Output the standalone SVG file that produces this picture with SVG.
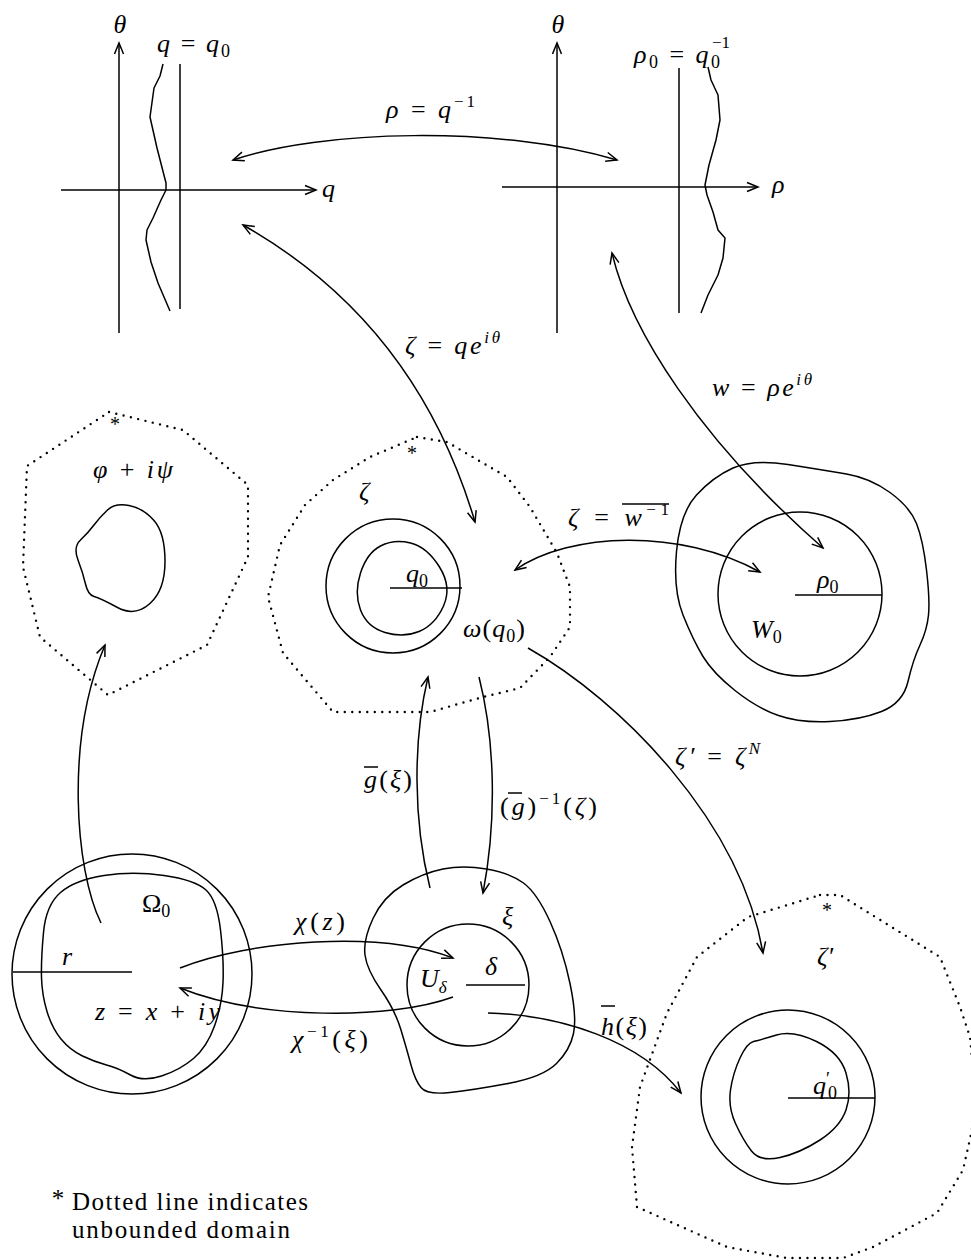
<svg xmlns="http://www.w3.org/2000/svg" width="971" height="1260" viewBox="0 0 971 1260">
<style>
.ln{fill:none;stroke:#000;stroke-width:1.5;stroke-linejoin:round}
.dot{fill:none;stroke:#000;stroke-width:2.4;stroke-dasharray:0 7.5;stroke-linecap:round;stroke-linejoin:round}
.m{font-family:"Liberation Serif","Times New Roman",serif;font-size:26px;font-style:italic;fill:#000}
.r{font-style:normal}
.sb{font-size:18px}
.sp{font-size:17px}
.ast{font-family:"Liberation Serif","Times New Roman",serif;font-size:20px;text-anchor:middle;fill:#000}
.note{font-family:"Liberation Serif","Times New Roman",serif;font-size:25px;fill:#000}
</style>
<defs>
<marker id="ah" viewBox="-13 -7 15 14" refX="0" refY="0" markerWidth="15" markerHeight="14" markerUnits="userSpaceOnUse" orient="auto-start-reverse">
<path d="M-11,-4.5 L0,0 L-11,4.5" fill="none" stroke="#000" stroke-width="1.5"/>
</marker>
</defs>

<g id="plane-q">
<line class="ln" x1="119" y1="333" x2="119" y2="43" marker-end="url(#ah)"/>
<line class="ln" x1="61" y1="190" x2="316" y2="190" marker-end="url(#ah)"/>
<line class="ln" x1="180" y1="64" x2="180" y2="309"/>
<polyline class="ln" points="163,64 160,76 154,88 150,117 157,148 166,183 166,190 161,200 153,218 147,230 146,240 151,262 158,283 170,311"/>
<text class="m" x="120" y="33" text-anchor="middle">θ</text>
<text class="m" x="157" y="52" textLength="73" lengthAdjust="spacing">q<tspan class="r"> = </tspan>q<tspan class="r sb" dy="5">0</tspan></text>
<text class="m" x="322" y="197">q</text>
</g>

<g id="plane-rho">
<line class="ln" x1="557" y1="333" x2="557" y2="43" marker-end="url(#ah)"/>
<line class="ln" x1="502" y1="187" x2="758" y2="187" marker-end="url(#ah)"/>
<line class="ln" x1="679" y1="68" x2="679" y2="313"/>
<polyline class="ln" points="708,67 711,80 718,95 720,120 716,140 709,165 705,185 707,195 713,212 718,230 725,238 723,258 718,275 708,295 701,313"/>
<text class="m" x="558" y="33" text-anchor="middle">θ</text>
<text class="m" x="634" y="63" textLength="86" lengthAdjust="spacing">ρ<tspan class="r sb" dy="5">0</tspan><tspan class="r" dy="-5"> = </tspan>q<tspan class="r sb" dy="5">0</tspan></text>
<text class="m r sp" x="712" y="48">−1</text>
<text class="m" x="772" y="193">ρ</text>
</g>

<g id="domain-phi">
<polygon class="dot" points="109,412 183,430 248,485 248,557 207,645 108,695 40,637 23,567 27,466"/>
<path class="ln" d="M107.5,510 Q115,503 129,505.5 Q143,508 154,520.5 Q165,533 165,561.5 Q165,590 150,603.5 Q135,617 117.5,607.5 Q100,598 94,596.5 Q88,595 85.5,584 Q83,573 78,560 Q73,547 80.5,540 Q88,533 94,525 Q100,517 107.5,510 Z"/>
<text class="ast" x="115" y="431">*</text>
<text class="m" x="93" y="478" textLength="80" lengthAdjust="spacing">φ<tspan class="r"> + </tspan>iψ</text>
</g>

<g id="domain-zeta">
<polygon class="dot" points="417,437 447,442 507,477 530,507 557,553 570,587 570,627 550,657 520,688 483,697 430,712 333,712 283,653 268,597 280,545 305,505 333,480 370,457"/>
<circle class="ln" cx="393" cy="586" r="67"/>
<path class="ln" d="M380.5,546 Q394,539 410.5,543 Q427,547 439.5,567 Q452,587 443.5,606 Q435,625 419,631.5 Q403,638 385,632.5 Q367,627 360.5,610 Q354,593 360.5,573 Q367,553 380.5,546 Z"/>
<line class="ln" x1="390" y1="588" x2="462" y2="588"/>
<text class="ast" x="412" y="460">*</text>
<text class="m" x="359" y="500">ζ</text>
<text class="m" x="406" y="582">q<tspan class="r sb" dy="5">0</tspan></text>
<text class="m" x="463" y="637" textLength="62" lengthAdjust="spacing">ω<tspan class="r">(</tspan>q<tspan class="r sb" dy="5">0</tspan><tspan class="r" dy="-5">)</tspan></text>
</g>

<g id="domain-W0">
<path class="ln" d="M733,468 Q753,459 788,464.5 Q823,470 846.5,474 Q870,478 890,492.5 Q910,507 916.5,523.5 Q923,540 926.5,570 Q930,600 928.5,615 Q927,630 920,645 Q913,660 908,681.5 Q903,703 881.5,711.5 Q860,720 830,721.5 Q800,723 778.5,715.5 Q757,708 735,690.5 Q713,673 703,656.5 Q693,640 683,615 Q673,590 676.5,551.5 Q680,513 696.5,495 Q713,477 733,468 Z"/>
<circle class="ln" cx="800" cy="594" r="82"/>
<line class="ln" x1="795" y1="595" x2="882" y2="595"/>
<text class="m" x="817" y="588">ρ<tspan class="r sb" dy="5">0</tspan></text>
<text class="m" x="751" y="638">W<tspan class="r sb" dy="5">0</tspan></text>
</g>

<g id="domain-Omega0">
<circle class="ln" cx="132" cy="974" r="120"/>
<path class="ln" d="M41.5,977.5 Q41,960 43.5,932.5 Q46,905 60.5,892.5 Q75,880 104,875.5 Q133,871 164,875.5 Q195,880 206,890 Q217,900 220.5,930 Q224,960 223,982.5 Q222,1005 214.5,1026 Q207,1047 193.5,1058.5 Q180,1070 161.5,1076 Q143,1082 130.5,1075 Q118,1068 106.5,1065 Q95,1062 82.5,1056 Q70,1050 61,1039 Q52,1028 47,1011.5 Q42,995 41.5,977.5 Z"/>
<line class="ln" x1="13" y1="972" x2="132" y2="972"/>
<text class="m r" x="142" y="912">Ω<tspan class="sb" dy="5">0</tspan></text>
<text class="m" x="62" y="965">r</text>
<text class="m" x="95" y="1020" textLength="125" lengthAdjust="spacing">z<tspan class="r"> = </tspan>x<tspan class="r"> + </tspan>iy</text>
</g>

<g id="domain-xi">
<path class="ln" d="M443,869 Q463,865 486.5,869 Q510,873 523.5,883 Q537,893 550,921.5 Q563,950 570,983.5 Q577,1017 573.5,1033.5 Q570,1050 556.5,1063.5 Q543,1077 508,1083.5 Q473,1090 450,1092.5 Q427,1095 421,1087.5 Q415,1080 411,1065 Q407,1050 401,1030 Q395,1010 381,990 Q367,970 365,955 Q363,940 373,918.5 Q383,897 403,885 Q423,873 443,869 Z"/>
<circle class="ln" cx="468" cy="985" r="61"/>
<line class="ln" x1="466" y1="985" x2="525" y2="985"/>
<text class="m" x="502" y="925">ξ</text>
<text class="m" x="485" y="975">δ</text>
<text class="m" x="420" y="987">U<tspan class="sp" dy="6">δ</tspan></text>
</g>

<g id="domain-zeta-prime">
<polygon class="dot" points="820,895 840,895 940,957 960,1007 970,1037 973,1070 972,1130 963,1170 937,1213 873,1247 843,1258 787,1258 727,1247 637,1207 632,1147 640,1087 667,1013 697,957 748,917"/>
<circle class="ln" cx="788" cy="1097" r="87"/>
<path class="ln" d="M753.5,1041.5 Q760,1040 776.5,1035 Q793,1030 816.5,1041.5 Q840,1053 846,1073 Q852,1093 846,1110 Q840,1127 820,1140 Q800,1153 780,1157.5 Q760,1162 751.5,1151 Q743,1140 735.5,1123.5 Q728,1107 730.5,1090 Q733,1073 740,1058 Q747,1043 753.5,1041.5 Z"/>
<line class="ln" x1="788" y1="1098" x2="875" y2="1098"/>
<text class="ast" x="827" y="917">*</text>
<text class="m" x="817" y="965">ζ′</text>
<text class="m" x="813" y="1094">q<tspan class="r sb" dy="-9">′</tspan><tspan class="r sb" dx="-2" dy="14">0</tspan></text>
</g>

<g id="connectors">
<path class="ln" d="M233,160 C320,130 500,125 617,160" marker-start="url(#ah)" marker-end="url(#ah)"/>
<path class="ln" d="M243,225 C340,280 430,370 475,522" marker-start="url(#ah)" marker-end="url(#ah)"/>
<path class="ln" d="M612,253 C630,330 700,440 823,548" marker-start="url(#ah)" marker-end="url(#ah)"/>
<path class="ln" d="M515,570 C570,532 680,528 760,572" marker-start="url(#ah)" marker-end="url(#ah)"/>
<path class="ln" d="M528,648 C620,700 740,820 763,953" marker-end="url(#ah)"/>
<path class="ln" d="M430,888 C413,820 413,740 428,677" marker-end="url(#ah)"/>
<path class="ln" d="M479,677 C495,740 497,820 483,893" marker-end="url(#ah)"/>
<path class="ln" d="M180,968 C250,940 380,930 453,958" marker-end="url(#ah)"/>
<path class="ln" d="M453,997 C390,1020 260,1020 180,988" marker-end="url(#ah)"/>
<path class="ln" d="M488,1013 C560,1015 640,1040 681,1093" marker-end="url(#ah)"/>
<path class="ln" d="M101,923 C75,870 65,740 105,645" marker-end="url(#ah)"/>

<text class="m" x="386" y="118" textLength="89" lengthAdjust="spacing">ρ<tspan class="r"> = </tspan>q<tspan class="r sp" dy="-11">−1</tspan></text>
<text class="m" x="405" y="354" textLength="95" lengthAdjust="spacing">ζ<tspan class="r"> = </tspan>qe<tspan class="sp" dy="-11">iθ</tspan></text>
<text class="m" x="712" y="396" textLength="100" lengthAdjust="spacing">w<tspan class="r"> = </tspan>ρe<tspan class="sp" dy="-11">iθ</tspan></text>
<text class="m" x="568" y="526" textLength="101" lengthAdjust="spacing">ζ<tspan class="r"> = </tspan>w<tspan class="r sp" dy="-11">−1</tspan></text>
<line class="ln" x1="622" y1="504" x2="669" y2="504"/>
<text class="m" x="675" y="765" textLength="85" lengthAdjust="spacing">ζ′<tspan class="r"> = </tspan>ζ<tspan class="sp" dy="-11">N</tspan></text>
<text class="m" x="364" y="788" textLength="48" lengthAdjust="spacing">g<tspan class="r">(</tspan>ξ<tspan class="r">)</tspan></text>
<line class="ln" x1="364" y1="767" x2="378" y2="767"/>
<text class="m" x="500" y="815" textLength="97" lengthAdjust="spacing"><tspan class="r">(</tspan>g<tspan class="r">)</tspan><tspan class="r sp" dy="-11">−1</tspan><tspan class="r" dy="11">(</tspan>ζ<tspan class="r">)</tspan></text>
<line class="ln" x1="508" y1="793" x2="522" y2="793"/>
<text class="m" x="295" y="930" textLength="50" lengthAdjust="spacing">χ<tspan class="r">(</tspan>z<tspan class="r">)</tspan></text>
<text class="m" x="292" y="1048" textLength="76" lengthAdjust="spacing">χ<tspan class="r sp" dy="-11">−1</tspan><tspan class="r" dy="11">(</tspan>ξ<tspan class="r">)</tspan></text>
<text class="m" x="601" y="1035" textLength="46" lengthAdjust="spacing">h<tspan class="r">(</tspan>ξ<tspan class="r">)</tspan></text>
<line class="ln" x1="601" y1="1006" x2="615" y2="1006"/>
</g>

<g id="footnote">
<text class="note" x="58" y="1207" text-anchor="middle" font-size="20">*</text>
<text class="note" x="72" y="1210" textLength="236" lengthAdjust="spacing">Dotted line indicates</text>
<text class="note" x="72" y="1238" textLength="218" lengthAdjust="spacing">unbounded domain</text>
</g>
</svg>
